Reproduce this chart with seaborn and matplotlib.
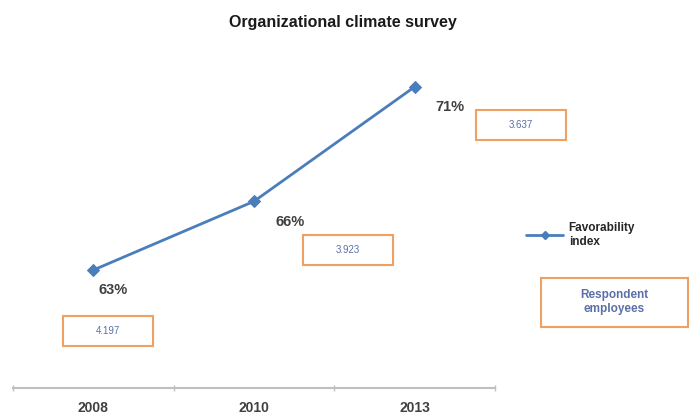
import matplotlib
matplotlib.use("Agg")
import matplotlib.pyplot as plt
import matplotlib.transforms as mtransforms
from matplotlib.patches import Rectangle
from matplotlib.lines import Line2D
import seaborn as sns
import pandas as pd

# Survey results
years = ["2008", "2010", "2013"]
favorability = [63, 66, 71]
respondents = ["4.197", "3.923", "3.637"]

# Label placement (pixel offsets from each point)
pct_offsets = [(20, -20), (36, -21), (35, -20)]
box_offsets = [(15, -61), (94, -49), (106, -38)]

BLUE = "#4a7ebb"
ORANGE = "#f0a060"
BOX_TEXT = "#5b6fa8"
DARK = "#404040"
W, H = 690, 417

sns.set_theme(style="white")
plt.rcParams["font.family"] = ["Liberation Sans", "DejaVu Sans"]

fig = plt.figure(figsize=(W / 100, H / 100), dpi=100)
ax = fig.add_axes([13 / W, 1 - 388 / H, 482 / W, 328 / H])

df = pd.DataFrame({"year": years, "favorability": favorability})
df["pos"] = range(len(years))
sns.lineplot(data=df, x="pos", y="favorability", ax=ax, color=BLUE,
             linewidth=2, marker="D", markersize=6, markeredgecolor=BLUE)

ax.set_xlim(-0.5, len(years) - 0.5)
ax.set_ylim(57.85, 72.17)
ax.set_xticks(range(len(years)))
ax.set_xticklabels(years, fontsize=10, fontweight="bold", color=DARK)
ax.set_xticks([i - 0.5 for i in range(len(years) + 1)], minor=True)
ax.tick_params(axis="x", which="major", length=0, pad=9)
ax.tick_params(axis="x", which="minor", length=5, direction="inout",
               color="#bfbfbf", width=1, bottom=True)
ax.set_yticks([])
ax.set_xlabel("")
ax.set_ylabel("")
for side in ["top", "right", "left"]:
    ax.spines[side].set_visible(False)
ax.spines["bottom"].set_color("#bfbfbf")
ax.spines["bottom"].set_linewidth(1.5)

for i, (v, r) in enumerate(zip(favorability, respondents)):
    dx, dy = pct_offsets[i]
    t = mtransforms.offset_copy(ax.transData, fig=fig, x=dx, y=dy, units="dots")
    ax.text(i, v, f"{v}%", transform=t, ha="center", va="center",
            fontsize=10.5, fontweight="bold", color=DARK)
    bx, by = box_offsets[i]
    tb = mtransforms.offset_copy(ax.transData, fig=fig, x=bx, y=by, units="dots")
    ax.text(i, v, r, transform=tb, ha="center", va="center",
            fontsize=7, color=BOX_TEXT)
    # orange frame, 90 x 30 px, around the respondent count
    anchor = ax.transData.transform((i, v))
    x0 = anchor[0] + bx - 45
    y0 = anchor[1] + by - 15
    fig.patches.append(Rectangle((x0 / W, y0 / H), 90 / W, 30 / H,
                                 transform=fig.transFigure, fill=False,
                                 edgecolor=ORANGE, linewidth=1.5))

fig.suptitle("Organizational climate survey", x=343 / W, y=1 - 22 / H,
             va="center", fontsize=11.5, fontweight="bold", color="#1a1a1a")

handle = Line2D([], [], color=BLUE, linewidth=2, marker="D", markersize=4)
fig.legend([handle], ["Favorability\nindex"], loc="center left",
           bbox_to_anchor=(515 / W, 1 - 235 / H), frameon=False,
           handlelength=3.2, handletextpad=0.45,
           prop={"size": 8.5, "weight": "bold"})

fig.patches.append(Rectangle((541 / W, 1 - 327 / H), 147 / W, 49 / H,
                             transform=fig.transFigure, fill=False,
                             edgecolor=ORANGE, linewidth=1.5))
fig.text(614 / W, 1 - 302 / H, "Respondent\nemployees", ha="center",
         va="center", fontsize=8.5, fontweight="bold", color=BOX_TEXT,
         linespacing=1.15)

fig.savefig("out.png", dpi=100)
